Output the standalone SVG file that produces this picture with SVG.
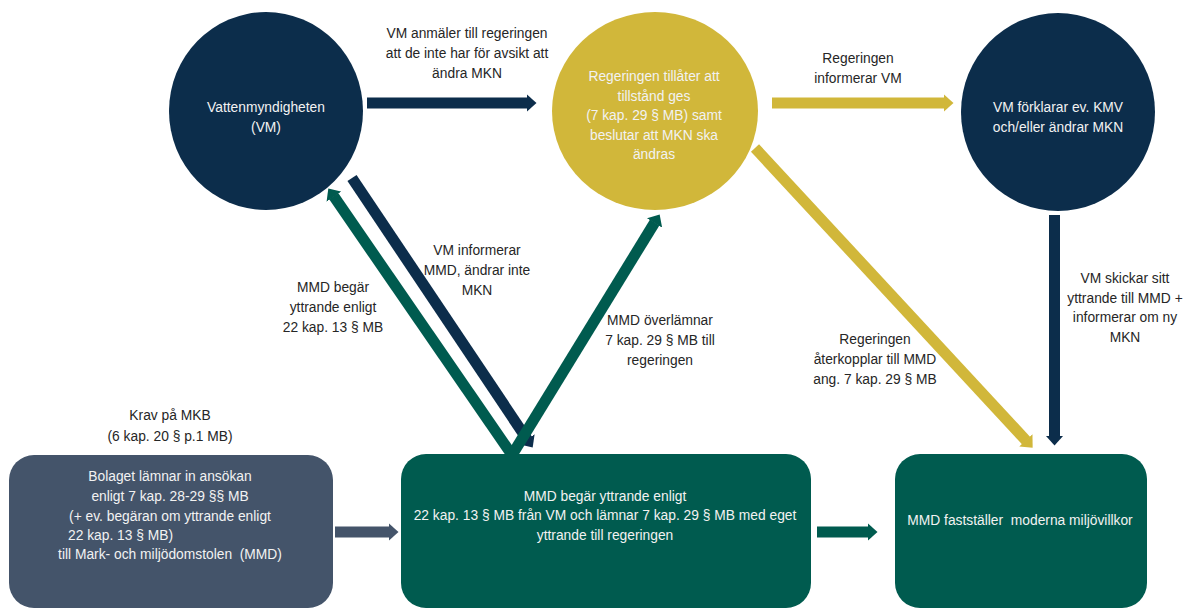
<svg xmlns="http://www.w3.org/2000/svg" width="1184" height="608" viewBox="0 0 1184 608">
  <style>
    text { font-family: "Liberation Sans", Arial, sans-serif; font-size: 13.8px; text-anchor: middle; white-space: pre; }
    .lbl { fill: #262626; }
    .wt { fill: #f2f2f2; }
    .navy { fill: #0c2d4b; }
    .gold { fill: #d1b73a; }
    .green { fill: #005b4f; }
    .gray { fill: #44546a; }
    .a { stroke-width: 11; fill: none; }
  </style>
  <defs>
    <marker id="mNavy" markerUnits="userSpaceOnUse" markerWidth="10" markerHeight="18" viewBox="0 0 10 18" refX="0.5" refY="9" orient="auto"><path d="M0,0 L10,9 L0,18 Z" fill="#0c2d4b"/></marker>
    <marker id="mGold" markerUnits="userSpaceOnUse" markerWidth="10" markerHeight="18" viewBox="0 0 10 18" refX="0.5" refY="9" orient="auto"><path d="M0,0 L10,9 L0,18 Z" fill="#d1b73a"/></marker>
    <marker id="mGreen" markerUnits="userSpaceOnUse" markerWidth="10" markerHeight="18" viewBox="0 0 10 18" refX="0.5" refY="9" orient="auto"><path d="M0,0 L10,9 L0,18 Z" fill="#005b4f"/></marker>
    <marker id="mGray" markerUnits="userSpaceOnUse" markerWidth="10" markerHeight="18" viewBox="0 0 10 18" refX="0.5" refY="9" orient="auto"><path d="M0,0 L10,9 L0,18 Z" fill="#44546a"/></marker>
  </defs>

  <g id="connectors">
    <line class="a" x1="367" y1="103" x2="527" y2="103" stroke="#0c2d4b" marker-end="url(#mNavy)"/>
    <line class="a" x1="772" y1="103" x2="944" y2="103" stroke="#d1b73a" marker-end="url(#mGold)"/>
    <line class="a" x1="1054.5" y1="215" x2="1054.5" y2="436" stroke="#0c2d4b" marker-end="url(#mNavy)"/>
    <line class="a" x1="335" y1="532" x2="389" y2="532" stroke="#44546a" marker-end="url(#mGray)"/>
    <line class="a" x1="817" y1="532" x2="868" y2="532" stroke="#005b4f" marker-end="url(#mGreen)"/>
    <line class="a" x1="352" y1="178" x2="527.4" y2="439.7" stroke="#0c2d4b" marker-end="url(#mNavy)"/>
    <line class="a" x1="512" y1="455" x2="333.7" y2="196.2" stroke="#005b4f" marker-end="url(#mGreen)"/>
    <line class="a" x1="512" y1="455" x2="654.7" y2="222.5" stroke="#005b4f" marker-end="url(#mGreen)"/>
    <line class="a" x1="755" y1="148" x2="1026.2" y2="440.7" stroke="#d1b73a" marker-end="url(#mGold)"/>
  </g>

  <g id="labels">
    <text class="lbl" x="467" y="38">VM anmäler till regeringen</text>
    <text class="lbl" x="467" y="58">att de inte har för avsikt att</text>
    <text class="lbl" x="467" y="78">ändra MKN</text>
    <text class="lbl" x="858" y="63">Regeringen</text>
    <text class="lbl" x="858" y="83">informerar VM</text>
    <text class="lbl" x="477" y="255">VM informerar</text>
    <text class="lbl" x="477" y="275">MMD, ändrar inte</text>
    <text class="lbl" x="477" y="295">MKN</text>
    <text class="lbl" x="333" y="292">MMD begär</text>
    <text class="lbl" x="333" y="312">yttrande enligt</text>
    <text class="lbl" x="333" y="332">22 kap. 13 § MB</text>
    <text class="lbl" x="660" y="325">MMD överlämnar</text>
    <text class="lbl" x="660" y="345">7 kap. 29 § MB till</text>
    <text class="lbl" x="660" y="365">regeringen</text>
    <text class="lbl" x="875" y="344">Regeringen</text>
    <text class="lbl" x="875" y="364">återkopplar till MMD</text>
    <text class="lbl" x="875" y="384">ang. 7 kap. 29 § MB</text>
    <text class="lbl" x="1125" y="283">VM skickar sitt</text>
    <text class="lbl" x="1125" y="303">yttrande till MMD +</text>
    <text class="lbl" x="1125" y="322">informerar om ny</text>
    <text class="lbl" x="1125" y="342">MKN</text>
    <text class="lbl" x="170" y="420">Krav på MKB</text>
    <text class="lbl" x="170" y="441">(6 kap. 20 § p.1 MB)</text>
  </g>

  <g id="vm">
    <ellipse class="navy" cx="266" cy="111" rx="97" ry="99"/>
    <text class="wt" x="266" y="112">Vattenmyndigheten</text>
    <text class="wt" x="266" y="132">(VM)</text>
  </g>

  <g id="regeringen">
    <ellipse class="gold" cx="655" cy="111" rx="103" ry="99"/>
    <text class="wt" x="654" y="81">Regeringen tillåter att</text>
    <text class="wt" x="654" y="101">tillstånd ges</text>
    <text class="wt" x="654" y="120">(7 kap. 29 § MB) samt</text>
    <text class="wt" x="654" y="140">beslutar att MKN ska</text>
    <text class="wt" x="654" y="159">ändras</text>
  </g>

  <g id="vm-forklarar">
    <ellipse class="navy" cx="1058" cy="112" rx="97" ry="99"/>
    <text class="wt" x="1058" y="112">VM förklarar ev. KMV</text>
    <text class="wt" x="1058" y="132">och/eller ändrar MKN</text>
  </g>

  <g id="bolaget">
    <rect class="gray" x="9" y="455" width="324" height="153" rx="25"/>
    <text class="wt" x="170" y="481">Bolaget lämnar in ansökan</text>
    <text class="wt" x="170" y="501">enligt 7 kap. 28-29 §§ MB</text>
    <text class="wt" x="170" y="521">(+ ev. begäran om yttrande enligt</text>
    <text class="wt" x="68" y="540" style="text-anchor:start">22 kap. 13 § MB)</text>
    <text class="wt" x="170" y="559">till Mark- och miljödomstolen  (MMD)</text>
  </g>

  <g id="mmd">
    <rect class="green" x="401" y="454" width="410" height="154" rx="25"/>
    <text class="wt" x="605" y="501">MMD begär yttrande enligt</text>
    <text class="wt" x="605" y="520">22 kap. 13 § MB från VM och lämnar 7 kap. 29 § MB med eget</text>
    <text class="wt" x="605" y="540">yttrande till regeringen</text>
  </g>

  <g id="mmd-faststaller">
    <rect class="green" x="895" y="454" width="252" height="154" rx="25"/>
    <text class="wt" x="1020" y="525">MMD fastställer  moderna miljövillkor</text>
  </g>
</svg>
